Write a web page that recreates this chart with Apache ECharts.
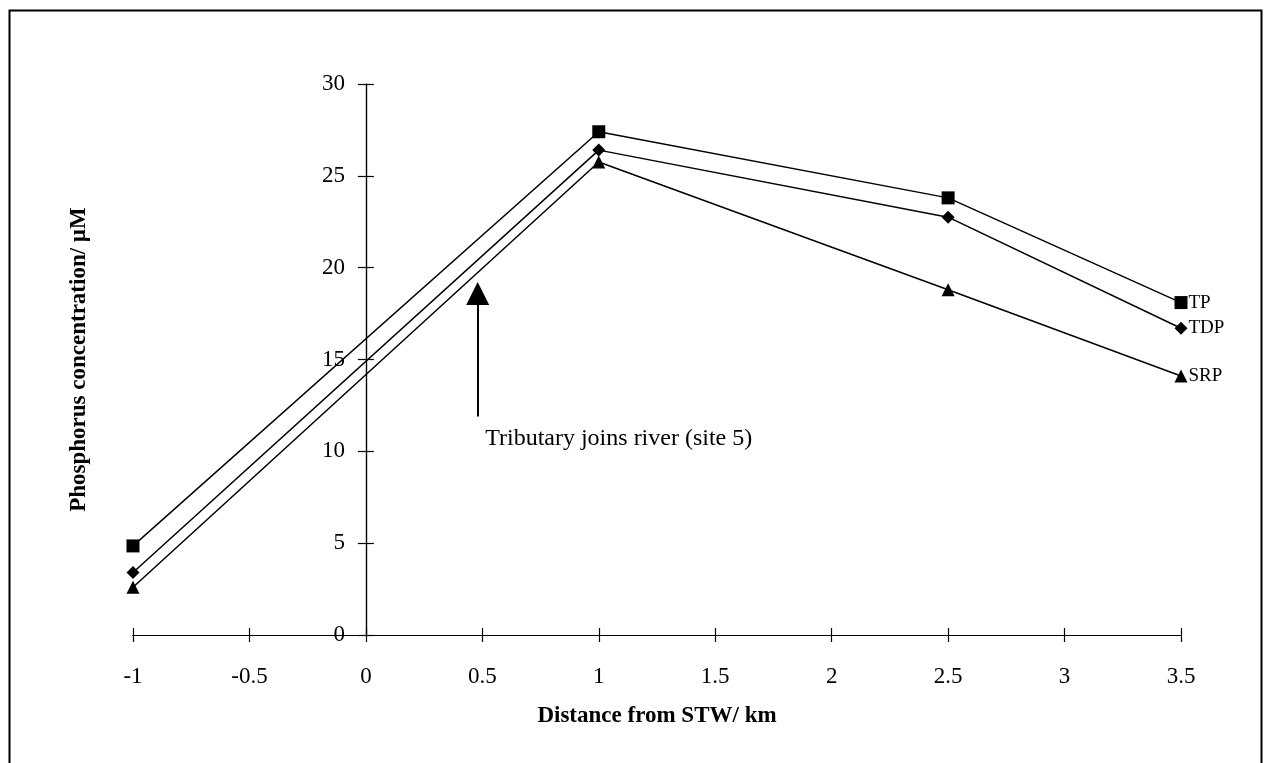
<!DOCTYPE html>
<html>
<head>
<meta charset="utf-8">
<script src="https://cdn.jsdelivr.net/npm/echarts@6/dist/echarts.min.js"></script>
<style>
html,body{margin:0;padding:0;background:#fff;}
#chart{width:1265px;height:763px;}
</style>
</head>
<body>
<div id="chart"></div>
<script>
const distances = [-1, 1, 2.5, 3.5];
const tpValues  = [4.85, 27.4, 23.8, 18.1];
const tdpValues = [3.4, 26.4, 22.75, 16.7];
const srpValues = [2.6, 25.75, 18.8, 14.1];
const seriesNames = ['TP', 'TDP', 'SRP'];
const xMin = -1, xMax = 3.5, xStep = 0.5;
const yMin = 0, yMax = 30, yStep = 5;
const arrowX = 0.48;
const arrowFrom = 11.9;
const arrowTo = 18.6;
const noteX = 0.51;
const noteY = 10.7;
const noteText = 'Tributary joins river (site 5)';

const FONT = '"Liberation Serif", "Times New Roman", serif';
const W = 1265;
const G = {left: 133, right: 84, top: 84, bottom: 128};
const plotW = W - G.left - G.right;
// the y axis sits at x = 0
const yAxisLeft = G.left + (0 - xMin) / (xMax - xMin) * plotW;

const chart = echarts.init(document.getElementById('chart'));

function pairs(vals){ return distances.map((d,i)=>[d, vals[i]]); }

function mkSeries(name, vals, symbol, size){
  return {
    name: name, type: 'line', data: pairs(vals),
    xAxisIndex: 0, yAxisIndex: 0,
    symbol: symbol, symbolSize: size,
    itemStyle: {color: '#000', opacity: 1},
    lineStyle: {color: '#000', width: 1.5},
    label: {
      show: true, position: 'right', distance: 1,
      color: '#000', fontFamily: FONT, fontSize: 19,
      formatter: p => p.dataIndex === distances.length - 1 ? name : ''
    },
    emphasis: {disabled: true},
    animation: false, z: 3
  };
}

const tickStyle = {color: '#000', width: 1.2};
const lineStyle = {color: '#000', width: 1.2};

chart.setOption({
  backgroundColor: '#fff',
  animation: false,
  grid: [
    Object.assign({outerBoundsMode: 'none', containLabel: false}, G),
    {outerBoundsMode: 'none', containLabel: false, left: yAxisLeft, right: G.right, top: G.top, bottom: G.bottom}
  ],
  xAxis: [
    {
      gridIndex: 0, type: 'value', min: xMin, max: xMax, interval: xStep,
      position: 'bottom', splitLine: {show: false},
      axisLine: {onZero: false, lineStyle: lineStyle},
      axisTick: {show: true, inside: false, length: 7, lineStyle: tickStyle},
      axisLabel: {color: '#000', fontFamily: FONT, fontSize: 23, margin: 30},
      name: 'Distance from STW/ km', nameLocation: 'middle', nameGap: 70,
      nameTextStyle: {color: '#000', fontFamily: FONT, fontSize: 23, fontWeight: 'bold'}
    },
    {
      gridIndex: 0, type: 'value', min: xMin, max: xMax, interval: xStep,
      position: 'bottom', splitLine: {show: false},
      axisLine: {onZero: false, lineStyle: lineStyle},
      axisTick: {show: true, inside: true, length: 7, lineStyle: tickStyle},
      axisLabel: {show: false}
    },
    {
      gridIndex: 1, type: 'value', min: 0, max: xMax, show: false
    }
  ],
  yAxis: [
    {
      gridIndex: 0, type: 'value', min: yMin, max: yMax, interval: yStep, show: false
    },
    {
      gridIndex: 1, type: 'value', min: yMin, max: yMax, interval: yStep,
      position: 'left', splitLine: {show: false},
      axisLine: {show: true, onZero: false, lineStyle: lineStyle},
      axisTick: {show: true, inside: false, length: 8, lineStyle: tickStyle},
      axisLabel: {color: '#000', fontFamily: FONT, fontSize: 23, margin: 21},
      name: 'Phosphorus concentration/ µM', nameLocation: 'middle', nameGap: 275,
      nameTextStyle: {color: '#000', fontFamily: FONT, fontSize: 23, fontWeight: 'bold'}
    },
    {
      gridIndex: 1, type: 'value', min: yMin, max: yMax, interval: yStep,
      position: 'left', splitLine: {show: false},
      axisLine: {show: true, onZero: false, lineStyle: lineStyle},
      axisTick: {show: true, inside: true, length: 8, lineStyle: tickStyle},
      axisLabel: {show: false}
    }
  ],
  graphic: [{
    type: 'rect', silent: true,
    shape: {x: 9.5, y: 10.5, width: 1252, height: 770},
    style: {fill: 'none', stroke: '#000', lineWidth: 2}
  }],
  series: [
    mkSeries(seriesNames[0], tpValues, 'rect', 13),
    mkSeries(seriesNames[1], tdpValues, 'diamond', 13),
    mkSeries(seriesNames[2], srpValues, 'triangle', 13),
    {
      type: 'line', data: [], silent: true, xAxisIndex: 0, yAxisIndex: 0,
      markLine: {
        silent: true, animation: false,
        symbol: ['none', 'triangle'], symbolSize: [23, 23],
        lineStyle: {color: '#000', width: 2, type: 'solid'},
        label: {show: false},
        emphasis: {disabled: true},
        data: [[{coord: [arrowX, arrowFrom]}, {coord: [arrowX, arrowTo]}]]
      }
    },
    {
      type: 'scatter', data: [[noteX, noteY]], symbol: 'circle', symbolSize: 1, silent: true,
      xAxisIndex: 0, yAxisIndex: 0,
      itemStyle: {color: '#fff', opacity: 1},
      emphasis: {disabled: true},
      label: {
        show: true, position: 'right', distance: 0,
        color: '#000', opacity: 1, fontFamily: FONT, fontSize: 24,
        formatter: noteText
      }
    }
  ]
});
</script>
</body>
</html>
